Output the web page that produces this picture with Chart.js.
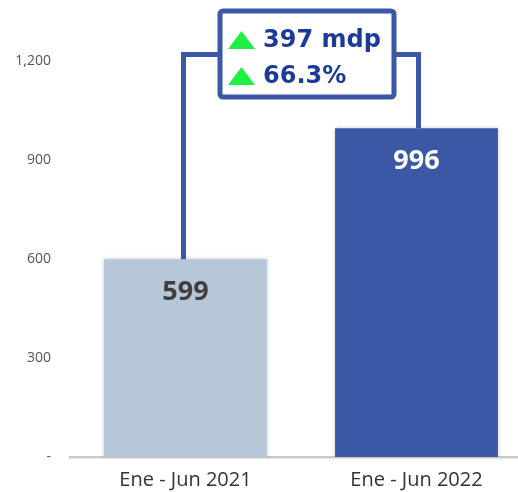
<!DOCTYPE html>
<html>
<head>
<meta charset="utf-8">
<script src="https://cdn.jsdelivr.net/npm/chart.js@4.4.0/dist/chart.umd.min.js"></script>
<style>
  html, body { margin: 0; padding: 0; overflow: hidden; background: #fff; }
  #wrap { width: 518px; height: 492px; overflow: hidden; }
</style>
</head>
<body>
<div id="wrap"><canvas id="myChart" width="532" height="492"></canvas></div>
<script>
(function () {
    "use strict";

    // data
    const categories = ['Ene - Jun 2021', 'Ene - Jun 2022'];
    const sales = [599, 996];
    const yTicks = [0, 300, 600, 900, 1200];

    const barColors = ['#b6c7da', '#3a58a6'];
    const valueColors = ['#3f3f3f', '#ffffff'];
    const lineBlue = '#3a58a6';
    const textBlue = '#1c3b98';
    const green = '#1ef046';

    const diff = sales[1] - sales[0];
    const pct = (diff / sales[0] * 100).toFixed(1);

    /* soft shadow round the bars */
    const barShadow = {
        id: 'barShadow',
        beforeDatasetsDraw(chart) {
            const ctx = chart.ctx;
            ctx.save();
            ctx.shadowColor = 'rgba(0,0,0,0.22)';
            ctx.shadowBlur = 4;
        },
        afterDatasetsDraw(chart) {
            chart.ctx.restore();
        }
    };

    /* value labels inside bars + the comparison bracket */
    const overlay = {
        id: 'overlay',
        afterDraw(chart) {
            const ctx = chart.ctx;
            const bars = chart.getDatasetMeta(0).data;
            ctx.save();

            // values
            ctx.font = 'bold 27px "Open Sans"';
            ctx.textAlign = 'center';
            ctx.textBaseline = 'middle';
            bars.forEach((b, i) => {
                ctx.fillStyle = valueColors[i];
                ctx.fillText(sales[i], b.x, b.y + 33);
            });

            // bracket
            const boxL = 220, boxR = 394, boxT = 11, boxB = 97;
            const lineY = 54.5;
            ctx.strokeStyle = lineBlue;
            ctx.lineWidth = 5;
            ctx.lineJoin = 'miter';
            ctx.beginPath();
            ctx.moveTo(bars[0].x - 2, bars[0].y);
            ctx.lineTo(bars[0].x - 2, lineY);
            ctx.lineTo(boxL, lineY);
            ctx.moveTo(boxR, lineY);
            ctx.lineTo(bars[1].x + 2, lineY);
            ctx.lineTo(bars[1].x + 2, bars[1].y);
            ctx.stroke();

            ctx.fillStyle = '#ffffff';
            ctx.beginPath();
            ctx.roundRect(boxL, boxT, boxR - boxL, boxB - boxT, 3);
            ctx.fill();
            ctx.stroke();

            // triangles + text
            const rows = [[40, diff + ' mdp'], [76, pct + '%']];
            rows.forEach(([cy, txt]) => {
                ctx.fillStyle = green;
                ctx.beginPath();
                ctx.moveTo(228, cy + 9);
                ctx.lineTo(255, cy + 9);
                ctx.lineTo(241.5, cy - 9);
                ctx.closePath();
                ctx.fill();
                ctx.fillStyle = textBlue;
                ctx.font = 'bold 24px "DejaVu Sans"';
                ctx.textAlign = 'left';
                ctx.textBaseline = 'middle';
                ctx.fillText(txt, 263, cy + 1);
            });
            ctx.restore();
        }
    };

    const ctx = document.getElementById('myChart').getContext('2d');
    new Chart(ctx, {
        type: 'bar',
        data: {
            labels: categories,
            datasets: [{
                label: 'Ventas',
                data: sales,
                backgroundColor: barColors,
                borderWidth: 0,
                categoryPercentage: 1,
                barPercentage: 0.705
            }]
        },
        options: {
            responsive: false,
            animation: false,
            devicePixelRatio: 1,
            layout: { padding: { top: 61, left: 0, right: 0, bottom: 0 } },
            plugins: {
                legend: { display: false },
                tooltip: { enabled: false }
            },
            scales: {
                x: {
                    grid: { display: false, drawTicks: false },
                    border: { display: true, color: '#c9c9c9', width: 2.5 },
                    ticks: {
                        color: '#333333',
                        font: { family: '"Open Sans"', size: 20 },
                        padding: 11
                    },
                    afterFit(scale) { scale.height = 35; }
                },
                y: {
                    min: 0,
                    max: 1200,
                    grid: { display: false, drawTicks: false },
                    border: { display: false },
                    afterBuildTicks(scale) {
                        scale.ticks = yTicks.map(v => ({ value: v }));
                    },
                    ticks: {
                        color: '#555555',
                        font: { family: '"Open Sans"', size: 14 },
                        padding: 19,
                        callback: function (value) {
                            return value === 0 ? '-' : value.toLocaleString('en-US');
                        }
                    },
                    afterFit(scale) { scale.width = 70; }
                }
            }
        },
        plugins: [barShadow, overlay]
    });
})();
</script>
</body>
</html>
